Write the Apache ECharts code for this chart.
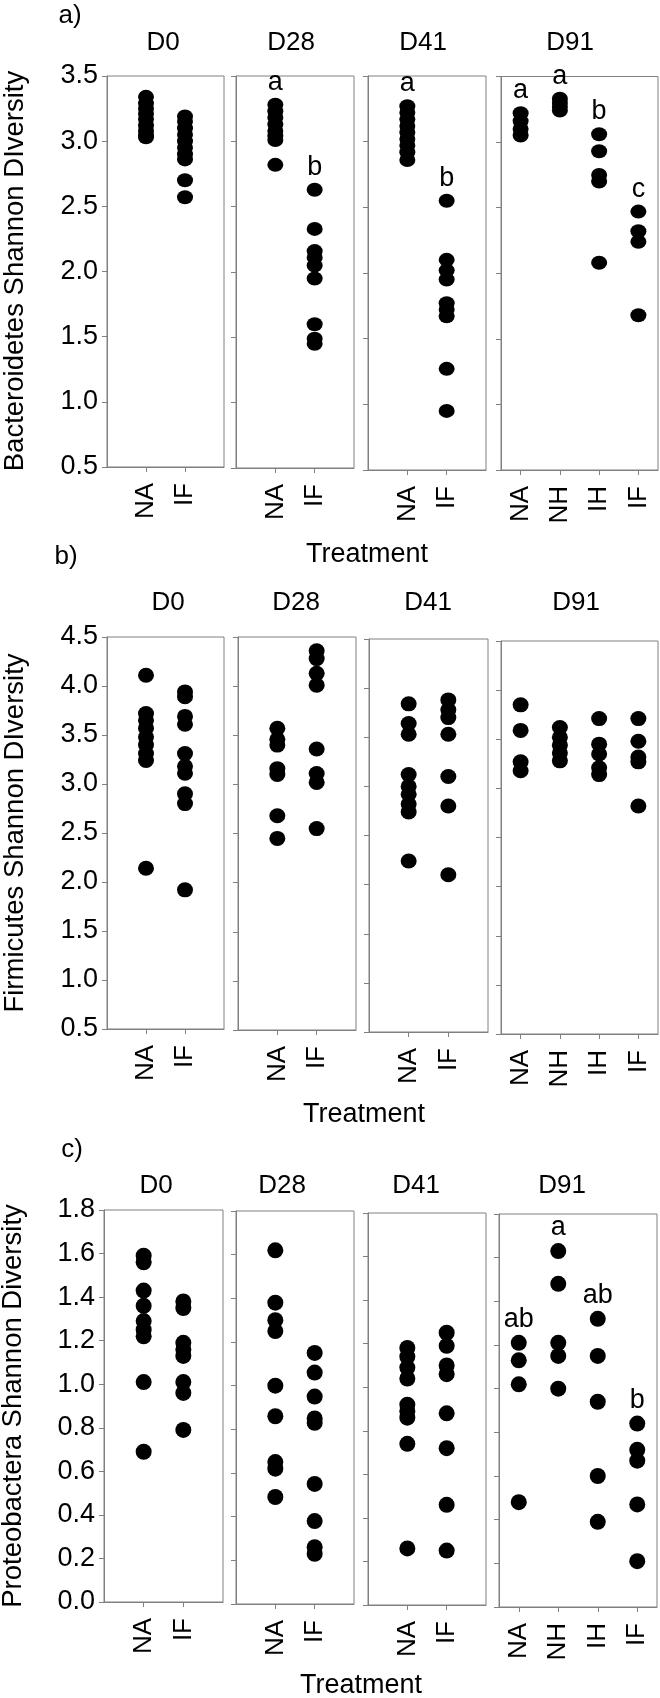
<!DOCTYPE html>
<html><head><meta charset="utf-8">
<script src="https://cdn.jsdelivr.net/npm/echarts@6/dist/echarts.min.js"></script>
<style>html,body{margin:0;padding:0;background:#fff}#chart{width:660px;height:1698px}</style>
</head><body><div id="chart"></div>
<script>
// ---------- categories ----------
const days = ['D0', 'D28', 'D41', 'D91'];
const treat2 = ['NA', 'IF'];
const treat4 = ['NA', 'NH', 'IH', 'IF'];

// ---------- a) Bacteroidetes Shannon Diversity ----------
const bacD0_NA  = [3.34, 3.29, 3.25, 3.21, 3.17, 3.12, 3.08, 3.05, 3.03];
const bacD0_IF  = [3.19, 3.15, 3.10, 3.05, 3.00, 2.95, 2.90, 2.86, 2.70, 2.57];
const bacD28_NA = [3.28, 3.23, 3.18, 3.13, 3.08, 3.04, 3.01, 2.82];
const bacD28_IF = [2.63, 2.33, 2.16, 2.11, 2.05, 1.95, 1.60, 1.49, 1.45];
const bacD41_NA = [3.27, 3.22, 3.17, 3.12, 3.07, 3.02, 2.97, 2.92, 2.86];
const bacD41_IF = [2.55, 2.10, 2.02, 1.95, 1.77, 1.72, 1.67, 1.27, 0.95];
const bacD91_NA = [3.22, 3.16, 3.10, 3.05];
const bacD91_NH = [3.33, 3.30, 3.27, 3.24];
const bacD91_IH = [3.06, 2.93, 2.75, 2.70, 2.08];
const bacD91_IF = [2.47, 2.32, 2.24, 1.68];
const bacLetters = [[], ['a', 'b'], ['a', 'b'], ['a', 'a', 'b', 'c']];

// ---------- b) Firmicutes Shannon Diversity ----------
const firD0_NA  = [4.11, 3.72, 3.65, 3.57, 3.48, 3.40, 3.31, 3.24, 2.14];
const firD0_IF  = [3.94, 3.89, 3.69, 3.61, 3.31, 3.18, 3.11, 2.90, 2.80, 1.92];
const firD28_NA = [3.57, 3.46, 3.40, 3.16, 3.10, 2.68, 2.45];
const firD28_IF = [4.36, 4.28, 4.13, 4.01, 3.36, 3.11, 3.02, 2.55];
const firD41_NA = [3.84, 3.64, 3.53, 3.12, 3.00, 2.92, 2.82, 2.74, 2.24];
const firD41_IF = [3.88, 3.78, 3.70, 3.53, 3.10, 2.80, 2.10];
const firD91_NA = [3.85, 3.59, 3.27, 3.18];
const firD91_NH = [3.62, 3.52, 3.44, 3.36, 3.28];
const firD91_IH = [3.71, 3.45, 3.35, 3.21, 3.14];
const firD91_IF = [3.71, 3.48, 3.32, 3.27, 2.82];
const firLetters = [[], [], [], []];

// ---------- c) Proteobactera Shannon Diversity ----------
const proD0_NA  = [1.59, 1.56, 1.43, 1.36, 1.29, 1.25, 1.22, 1.01, 0.69];
const proD0_IF  = [1.38, 1.35, 1.19, 1.16, 1.13, 1.01, 0.96, 0.79];
const proD28_NA = [1.62, 1.38, 1.30, 1.25, 1.00, 0.86, 0.65, 0.62, 0.49];
const proD28_IF = [1.15, 1.06, 0.95, 0.85, 0.83, 0.55, 0.38, 0.26, 0.23];
const proD41_NA = [1.18, 1.14, 1.09, 1.04, 0.92, 0.89, 0.86, 0.74, 0.26];
const proD41_IF = [1.25, 1.19, 1.10, 1.06, 0.88, 0.72, 0.46, 0.25];
const proD91_NA = [1.21, 1.13, 1.02, 0.48];
const proD91_NH = [1.63, 1.48, 1.21, 1.15, 1.00];
const proD91_IH = [1.32, 1.15, 0.94, 0.60, 0.39];
const proD91_IF = [0.84, 0.72, 0.67, 0.47, 0.21];
const proLetters = [[], [], [], ['ab', 'a', 'ab', 'b']];

// ---------- y axis settings ----------
const yMin = [0.5, 0.5, 0];
const yMax = [3.5, 4.5, 1.8];
const yStep = [0.5, 0.5, 0.2];
const yNames = ['Bacteroidetes Shannon DIversity', 'Firmicutes Shannon DIversity', 'Proteobactera Shannon Diversity'];
const panelTags = ['a)', 'b)', 'c)'];

const rows = [
  { groups: [[bacD0_NA, bacD0_IF], [bacD28_NA, bacD28_IF], [bacD41_NA, bacD41_IF], [bacD91_NA, bacD91_NH, bacD91_IH, bacD91_IF]], letters: bacLetters },
  { groups: [[firD0_NA, firD0_IF], [firD28_NA, firD28_IF], [firD41_NA, firD41_IF], [firD91_NA, firD91_NH, firD91_IH, firD91_IF]], letters: firLetters },
  { groups: [[proD0_NA, proD0_IF], [proD28_NA, proD28_IF], [proD41_NA, proD41_IF], [proD91_NA, proD91_NH, proD91_IH, proD91_IF]], letters: proLetters }
];

// ---------- layout (pixels) ----------
const FONT = '"Liberation Sans", Arial, sans-serif';
const GRAY = '#808080';
const geo = [
  { tops: [76, 76, 76, 76.5], bottoms: [467, 468, 470, 470], lefts: [107, 236, 368, 501], rights: [224, 354, 486, 658],
    titleX: [163, 291, 423, 570], titleY: 43, tag: [70, 16], treat: [367, 555], yname: [15, 271], dot: [16, 14] },
  { tops: [637, 637, 639, 641], bottoms: [1029, 1030, 1032, 1034], lefts: [107, 238, 369, 501], rights: [224, 356, 488, 658],
    titleX: [168, 296, 428, 576], titleY: 603, tag: [66, 557], treat: [364, 1115], yname: [15, 833], dot: [16, 15] },
  { tops: [1210, 1211, 1213, 1214], bottoms: [1602, 1604, 1605, 1607], lefts: [104, 236, 368, 499], rights: [223, 354, 486, 657],
    titleX: [156, 282, 416, 562], titleY: 1186, tag: [72, 1150], treat: [361, 1686], yname: [13, 1406], dot: [16, 16] }
];

const grid = [], xAxis = [], yAxis = [], series = [], graphic = [];
let gi = 0;
rows.forEach((row, r) => {
  const g = geo[r];
  row.groups.forEach((grp, d) => {
    const cats = grp.length === 4 ? treat4 : treat2;
    const nCat = cats.length;
    grid.push({
      left: g.lefts[d], top: g.tops[d],
      width: g.rights[d] - g.lefts[d], height: g.bottoms[d] - g.tops[d],
      show: true, borderColor: GRAY, borderWidth: 1, backgroundColor: 'transparent'
    });
    const ticks = cats.map((c, i) => i + 1);
    xAxis.push({
      type: 'value', gridIndex: gi,
      min: nCat === 4 ? 0.5 : 0, max: nCat === 4 ? 4.5 : 3,
      splitLine: { show: false },
      axisLine: { show: true, onZero: false, lineStyle: { color: GRAY, width: 1 } },
      axisTick: { show: true, customValues: ticks, length: 5, inside: false, lineStyle: { color: GRAY } },
      axisLabel: {
        show: true, customValues: ticks, rotate: 90, margin: 16,
        fontSize: 26, fontFamily: FONT, color: '#000',
        formatter: v => cats[Math.round(v) - 1] || ''
      }
    });
    yAxis.push({
      type: 'value', gridIndex: gi,
      min: yMin[r], max: yMax[r], interval: yStep[r],
      splitLine: { show: false },
      axisLine: { show: true, onZero: false, lineStyle: { color: GRAY, width: 1 } },
      axisTick: { show: true, length: 5, inside: false, lineStyle: { color: GRAY } },
      axisLabel: {
        show: d === 0, margin: 9, fontSize: 27, fontFamily: FONT, color: '#000',
        formatter: v => v.toFixed(1)
      }
    });
    grp.forEach((vals, t) => {
      const letter = row.letters[d][t];
      let maxIdx = 0;
      vals.forEach((v, i) => { if (v > vals[maxIdx]) maxIdx = i; });
      const data = vals.map((v, i) => {
        const item = { value: [t + 1, v] };
        if (letter && i === maxIdx) {
          item.label = {
            show: true, formatter: letter, position: 'top', distance: 2,
            fontSize: 27, fontFamily: FONT, color: '#000'
          };
        }
        return item;
      });
      series.push({
        type: 'scatter', xAxisIndex: gi, yAxisIndex: gi,
        symbol: 'circle', symbolSize: g.dot,
        itemStyle: { color: '#000', opacity: 1 },
        label: { show: false },
        emphasis: { disabled: true },
        silent: true, clip: false,
        data: data
      });
    });
    graphic.push({
      type: 'text', x: g.titleX[d], y: g.titleY,
      style: { text: days[d], fontSize: 26, fontFamily: FONT, fill: '#000', align: 'center', verticalAlign: 'middle', textAlign: 'center', textVerticalAlign: 'middle' }
    });
    gi++;
  });
  graphic.push({
    type: 'text', x: g.tag[0], y: g.tag[1],
    style: { text: panelTags[r], fontSize: 26, fontFamily: FONT, fill: '#000', align: 'center', verticalAlign: 'middle', textAlign: 'center', textVerticalAlign: 'middle' }
  });
  graphic.push({
    type: 'text', x: g.treat[0], y: g.treat[1],
    style: { text: 'Treatment', fontSize: 27, fontFamily: FONT, fill: '#000', align: 'center', verticalAlign: 'middle', textAlign: 'center', textVerticalAlign: 'middle' }
  });
  graphic.push({
    type: 'text', x: g.yname[0], y: g.yname[1], rotation: Math.PI / 2,
    style: { text: yNames[r], fontSize: 27.5, fontFamily: FONT, fill: '#000', align: 'center', verticalAlign: 'middle', textAlign: 'center', textVerticalAlign: 'middle' }
  });
});

const chart = echarts.init(document.getElementById('chart'), null, { renderer: 'canvas', width: 660, height: 1698 });
chart.setOption({
  backgroundColor: '#fff',
  animation: false,
  grid, xAxis, yAxis, series, graphic
});
</script></body></html>
